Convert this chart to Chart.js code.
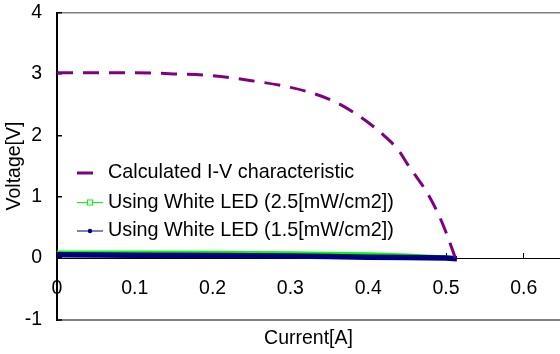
<!DOCTYPE html>
<html>
<head>
<meta charset="utf-8">
<script src="https://cdn.jsdelivr.net/npm/chart.js@4.4.1/dist/chart.umd.min.js"></script>
<style>
  html, body { margin: 0; padding: 0; background: #fff; }
  #wrap { width: 560px; height: 354px; position: relative; }
</style>
</head>
<body>
<div id="wrap"><canvas id="ivChart"></canvas></div>
<script>
// I-V curves
const calcCurrent = [0, 0.05, 0.1, 0.15, 0.2, 0.25, 0.3, 0.33, 0.36, 0.39, 0.405, 0.42, 0.44, 0.45, 0.46, 0.475, 0.49, 0.5, 0.512];
const calcVoltage = [3.02, 3.02, 3.02, 3.0, 2.97, 2.89, 2.78, 2.68, 2.53, 2.3, 2.16, 2.0, 1.74, 1.54, 1.36, 1.08, 0.72, 0.42, 0.0];

const led25Current = [0, 0.1, 0.2, 0.3, 0.4, 0.45, 0.5, 0.513];
const led25Voltage = [0.1, 0.098, 0.095, 0.088, 0.07, 0.05, 0.02, 0.0];

const led15Current = [0, 0.1, 0.2, 0.3, 0.35, 0.4, 0.45, 0.5, 0.514];
const led15Voltage = [0.055, 0.048, 0.042, 0.035, 0.025, 0.015, 0.008, 0.0, -0.01];

const xTicks = [0, 0.1, 0.2, 0.3, 0.4, 0.5, 0.6];
const xTickLabels = ['0', '0.1', '0.2', '0.3', '0.4', '0.5', '0.6'];
const yTicks = [-1, 0, 1, 2, 3, 4];

const seriesLabels = [
    'Calculated I-V characteristic',
    'Using White LED (2.5[mW/cm2])',
    'Using White LED (1.5[mW/cm2])'
];

const FONT = "'Liberation Sans', Arial, sans-serif";
const X_MAX = 0.6465;

function toPoints(xs, ys) {
    return xs.map((x, i) => ({ x: x, y: ys[i] }));
}

function noPad(scale) {
    scale.paddingTop = 0;
    scale.paddingBottom = 0;
    scale.paddingLeft = 0;
    scale.paddingRight = 0;
}

// legend drawn inside the plot area, line + marker like the original
const insideLegend = {
    id: 'insideLegend',
    afterDraw(chart) {
        const { ctx, chartArea } = chart;
        const sx = chartArea.left + 20;
        const tx = chartArea.left + 51;
        const rows = [chartArea.top + 160.5, chartArea.top + 190, chartArea.top + 218.5];
        ctx.save();
        ctx.font = '19.8px ' + FONT;
        ctx.textBaseline = 'middle';
        ctx.textAlign = 'left';

        // calculated: one thick dash
        ctx.strokeStyle = '#800080';
        ctx.lineWidth = 3;
        ctx.beginPath();
        ctx.moveTo(sx, rows[0]);
        ctx.lineTo(sx + 16, rows[0]);
        ctx.stroke();

        // 2.5 mW: thin line + hollow square
        ctx.strokeStyle = '#00ff00';
        ctx.lineWidth = 1;
        ctx.beginPath();
        ctx.moveTo(sx, rows[1]);
        ctx.lineTo(sx + 26, rows[1]);
        ctx.stroke();
        ctx.fillStyle = '#fff';
        ctx.fillRect(sx + 10.5, rows[1] - 2.5, 5, 5);
        ctx.strokeRect(sx + 10.5, rows[1] - 2.5, 5, 5);

        // 1.5 mW: thin line + filled dot
        ctx.strokeStyle = '#000080';
        ctx.beginPath();
        ctx.moveTo(sx, rows[2]);
        ctx.lineTo(sx + 26, rows[2]);
        ctx.stroke();
        ctx.fillStyle = '#000080';
        ctx.beginPath();
        ctx.arc(sx + 13, rows[2], 2.2, 0, Math.PI * 2);
        ctx.fill();

        ctx.fillStyle = '#000';
        chart.data.datasets.forEach((ds, i) => {
            ctx.fillText(ds.label, tx, rows[i]);
        });
        ctx.restore();
    }
};

new Chart(document.getElementById('ivChart'), {
    type: 'line',
    data: {
        datasets: [{
            label: seriesLabels[0],
            data: toPoints(calcCurrent, calcVoltage),
            borderColor: '#800080',
            borderWidth: 3,
            borderDash: [16, 10],
            cubicInterpolationMode: 'monotone',
            pointRadius: 0,
            fill: false,
            order: 0
        }, {
            label: seriesLabels[1],
            data: toPoints(led25Current, led25Voltage),
            borderColor: '#00ff00',
            borderWidth: 3,
            pointRadius: 0,
            fill: false,
            order: 2
        }, {
            label: seriesLabels[2],
            data: toPoints(led15Current, led15Voltage),
            borderColor: '#000080',
            borderWidth: 5.5,
            pointRadius: 0,
            fill: false,
            order: 1
        }]
    },
    options: {
        responsive: true,
        maintainAspectRatio: false,
        animation: false,
        layout: { padding: { top: 12.5, right: 0, left: 0, bottom: 0 } },
        plugins: {
            legend: { display: false },
            tooltip: { enabled: false }
        },
        scales: {
            // bottom scale only carries the title
            x: {
                type: 'linear',
                position: 'bottom',
                min: 0,
                max: X_MAX,
                grid: { display: false },
                border: { display: false },
                ticks: { display: false },
                title: {
                    display: true,
                    text: 'Current[A]',
                    color: '#000',
                    font: { family: FONT, size: 19.5 },
                    padding: { top: 0, bottom: 3.5 }
                },
                afterFit(scale) { scale.height = 34.5; noPad(scale); }
            },
            // axis line with tick labels sits at V = 0
            xZero: {
                type: 'linear',
                position: { y: 0 },
                display: true,
                min: 0,
                max: X_MAX,
                afterBuildTicks(scale) {
                    scale.ticks = xTicks.map(v => ({ value: v }));
                },
                afterFit(scale) { noPad(scale); },
                grid: {
                    drawOnChartArea: false,
                    tickLength: -6,
                    tickColor: '#000',
                    tickWidth: 1
                },
                border: { color: '#000', width: 1 },
                ticks: {
                    padding: 25,
                    color: '#000',
                    font: { family: FONT, size: 19.5 },
                    maxRotation: 0,
                    callback: (v, i) => xTickLabels[i]
                }
            },
            y: {
                type: 'linear',
                position: 'left',
                min: -1,
                max: 4,
                afterBuildTicks(scale) {
                    scale.ticks = yTicks.map(v => ({ value: v }));
                },
                grid: {
                    color: ctx => (ctx.tick && (ctx.tick.value === 4 || ctx.tick.value === -1)) ? '#808080' : 'rgba(0,0,0,0)',
                    lineWidth: ctx => (ctx.tick && ctx.tick.value === -1) ? 2 : 1.5,
                    tickLength: -5,
                    tickColor: '#000',
                    tickWidth: 1.5
                },
                border: { color: '#000', width: 2 },
                ticks: {
                    padding: 20,
                    color: '#000',
                    font: { family: FONT, size: 19.5 }
                },
                title: {
                    display: true,
                    text: 'Voltage[V]',
                    color: '#000',
                    font: { family: FONT, size: 19.5 },
                    padding: { top: 3, bottom: 0 }
                },
                afterFit(scale) { scale.width = 57; noPad(scale); }
            }
        }
    },
    plugins: [insideLegend]
});
</script>
</body>
</html>
